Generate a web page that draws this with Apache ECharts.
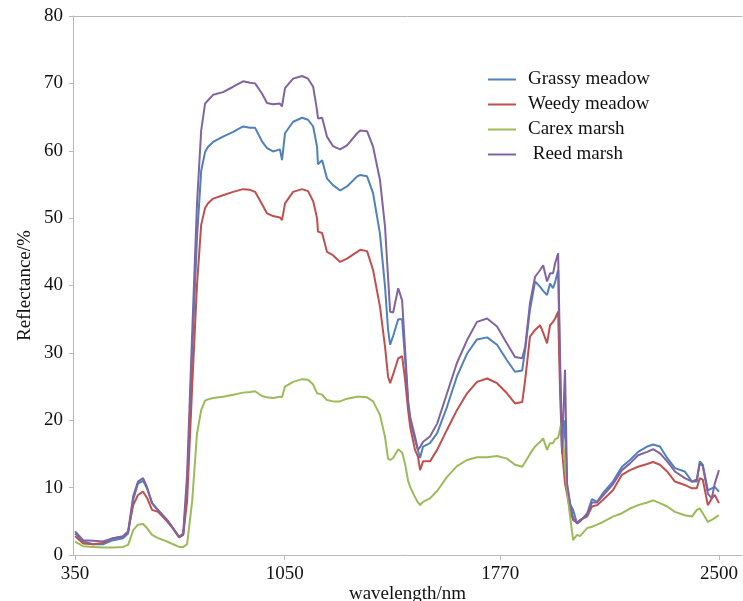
<!DOCTYPE html>
<html>
<head>
<meta charset="utf-8">
<script src="https://cdn.jsdelivr.net/npm/echarts@6/dist/echarts.min.js"></script>
<style>
  html, body { margin:0; padding:0; background:#fff; }
  #chart { width:743px; height:601px; }
</style>
</head>
<body>
<div id="chart"></div>
<script>
// wavelength (nm) of each sample
var wavelengths = [350,377,410,443,477,510,527,544,560,577,590,607,627,657,677,697,711,724,741,757,
	771,784,794,811,844,878,911,934,951,974,991,1011,1034,1041,1051,1078,1108,1128,1145,1158,
	1161,1175,1191,1211,1235,1258,1292,1302,1325,1345,1368,1385,1395,1402,1412,1429,1442,1452,1462,1469,
	1485,1495,1502,1512,1535,1559,1592,1625,1659,1692,1726,1759,1792,1819,1843,1853,1869,1886,1903,1913,
	1926,1936,1946,1953,1963,1969,1976,1986,1993,2003,2013,2026,2036,2060,2076,2093,2113,2146,2176,2203,
	2230,2260,2280,2303,2327,2353,2386,2410,2426,2436,2446,2463,2476,2486,2500];

var grassyMeadow = [3.2,2.0,1.6,1.6,2.2,2.5,3.2,8.2,10.6,11.0,9.9,7.7,6.6,5.2,4.0,2.7,3.0,10.0,30.0,47.0,
	57.0,59.8,60.6,61.3,62.1,62.8,63.6,63.4,63.4,61.4,60.4,59.9,60.2,58.6,62.6,64.3,64.9,64.6,63.6,60.6,
	58.0,58.6,55.9,54.9,54.1,54.7,56.2,56.4,56.2,53.7,47.7,39.8,33.5,31.2,32.5,35.0,35.0,29.0,22.5,20.0,
	17.1,15.5,14.4,16.1,16.6,18.1,22.0,26.5,29.9,32.0,32.3,31.2,28.9,27.2,27.4,30.5,36.4,40.6,39.8,39.2,
	38.6,40.3,39.6,40.5,42.3,28.0,15.0,20.0,10.0,7.5,6.7,4.7,5.0,6.2,8.3,7.9,9.2,10.9,13.1,14.1,
	15.3,16.1,16.4,16.1,14.4,12.9,12.4,10.9,10.9,13.9,13.4,9.6,9.9,10.1,9.4];

var weedyMeadow = [2.8,1.7,1.6,1.8,2.5,2.8,3.5,7.4,8.9,9.4,8.5,6.7,6.4,5.0,3.9,2.6,3.0,8.0,25.0,40.0,
	49.0,51.5,52.2,52.9,53.4,53.9,54.3,54.2,53.9,52.1,50.7,50.3,50.1,49.7,52.2,53.9,54.3,54.0,52.5,50.0,
	48.0,47.8,45.0,44.5,43.5,44.0,45.0,45.3,45.1,42.3,36.9,30.9,26.5,25.5,26.8,29.2,29.5,26.0,21.5,19.0,
	15.6,14.6,12.6,13.9,13.9,15.6,18.6,21.5,24.0,25.7,26.2,25.5,24.0,22.5,22.7,26.0,32.4,33.4,34.1,33.0,
	31.4,34.1,34.6,35.1,36.1,25.0,15.6,10.6,9.0,6.5,5.2,4.8,5.2,5.7,7.2,7.4,8.2,9.6,11.9,12.6,
	13.1,13.5,13.8,13.4,12.4,10.9,10.4,9.9,9.9,11.4,11.2,7.4,8.4,8.9,7.7];

var carexMarsh = [2.0,1.3,1.2,1.1,1.1,1.2,1.5,3.7,4.5,4.6,4.0,3.0,2.5,2.0,1.6,1.2,1.2,1.6,8.0,18.0,
	21.5,22.9,23.1,23.3,23.5,23.8,24.1,24.2,24.3,23.6,23.4,23.3,23.5,23.4,25.0,25.7,26.1,26.0,25.3,24.0,
	23.9,23.8,23.0,22.8,22.8,23.2,23.5,23.5,23.4,22.8,20.8,17.5,14.3,14.1,14.4,15.7,15.2,13.5,11.0,10.1,
	8.6,7.8,7.4,7.9,8.4,9.5,11.6,13.2,14.1,14.5,14.5,14.7,14.3,13.4,13.1,13.8,15.0,16.1,16.8,17.3,
	15.6,16.6,16.6,17.2,17.4,17.5,20.0,13.0,9.6,5.7,2.2,3.0,2.8,4.0,4.2,4.5,4.9,5.7,6.2,6.9,
	7.4,7.8,8.1,7.7,7.2,6.4,5.9,5.7,6.7,6.9,6.2,4.9,5.2,5.5,5.9];

var reedMarsh = [3.5,2.2,2.1,2.0,2.5,2.7,3.5,8.7,10.9,11.4,10.1,7.7,6.7,5.2,4.0,2.7,3.2,12.0,33.0,52.0,
	63.0,67.0,67.5,68.3,68.7,69.5,70.3,70.1,70.0,68.5,67.1,66.9,67.0,66.6,69.3,70.7,71.1,70.7,69.5,66.0,
	64.8,64.9,62.1,60.7,60.2,60.8,62.6,63.0,62.9,60.6,55.7,48.7,41.3,36.1,36.0,39.6,37.8,30.4,23.0,20.5,
	17.6,15.6,16.0,16.8,17.6,19.5,24.0,28.5,31.9,34.6,35.1,33.9,31.4,29.4,29.2,30.9,37.4,41.3,42.3,43.0,
	40.6,41.8,41.8,43.3,44.8,30.4,15.6,27.5,10.6,7.7,5.5,4.7,5.0,6.0,7.8,7.8,8.8,10.5,12.6,13.6,
	14.8,15.3,15.7,15.1,13.9,12.4,11.4,10.9,11.2,13.6,13.2,9.1,8.4,10.6,12.6];

var seriesNames = ['Grassy meadow','Weedy meadow','Carex marsh','Reed marsh'];
var seriesColors = ['#4f81bd','#c0504d','#9bbb59','#8064a2'];
var xTicks = [350,1050,1770,2500];

function pairs(values){
	return wavelengths.map(function(w,i){ return [w, values[i]]; });
}

var seriesValues = [grassyMeadow, weedyMeadow, carexMarsh, reedMarsh];
var series = seriesValues.map(function(v,i){
	return {
		name: seriesNames[i],
		type: 'line',
		symbol: 'none',
		data: pairs(v),
		lineStyle: { width: 2, color: seriesColors[i] },
		itemStyle: { color: seriesColors[i] }
	};
});

var font = 'Liberation Serif';
var axisGray = '#b8b8b8';
var myChart = echarts.init(document.getElementById('chart'));
var option = {
	animation: false,
	textStyle: { fontFamily: font },
	grid: { left: 73, right: 1, top: 16, bottom: 46, outerBoundsMode: 'none', containLabel: false },
	legend: {
		orient: 'vertical',
		left: 482, top: 65,
		itemWidth: 28, itemHeight: 14, itemGap: 6,
		itemStyle: { opacity: 0 },
		textStyle: { fontFamily: font, fontSize: 19, lineHeight: 19, color: '#111', padding: [0,0,0,7] },
		formatter: function(name){ return name === 'Reed marsh' ? ' ' + name : name; },
		data: seriesNames
	},
	xAxis: [{
		type: 'value',
		min: 343, max: 2577,
		name: 'wavelength/nm',
		nameLocation: 'middle',
		nameGap: 30,
		nameMoveOverlap: false,
		nameTextStyle: { fontFamily: font, fontSize: 19, color: '#111' },
		axisLine: { lineStyle: { color: axisGray, width: 1 } },
		axisTick: { show: true, length: 5, customValues: xTicks, lineStyle: { color: axisGray } },
		axisLabel: {
			customValues: xTicks, margin: 10, fontFamily: font, fontSize: 19, color: '#111',
			formatter: function(v){ return String(v); }
		},
		splitLine: { show: false }
	}, {
		// top frame line only
		type: 'value', position: 'top',
		min: 343, max: 2577,
		axisLine: { show: true, lineStyle: { color: axisGray, width: 1 } },
		axisTick: { show: false },
		axisLabel: { show: false },
		splitLine: { show: false }
	}],
	yAxis: {
		type: 'value',
		min: 0, max: 80, interval: 10,
		name: 'Reflectance/%',
		nameLocation: 'middle',
		nameGap: 38,
		nameMoveOverlap: false,
		nameTextStyle: { fontFamily: font, fontSize: 19, color: '#111' },
		axisLine: { show: true, lineStyle: { color: axisGray, width: 1 } },
		axisTick: { show: true, length: 4, lineStyle: { color: axisGray } },
		axisLabel: { margin: 10, fontFamily: font, fontSize: 19, color: '#111' },
		splitLine: { show: false }
	},
	series: series
};

myChart.setOption(option);
</script>
</body>
</html>
